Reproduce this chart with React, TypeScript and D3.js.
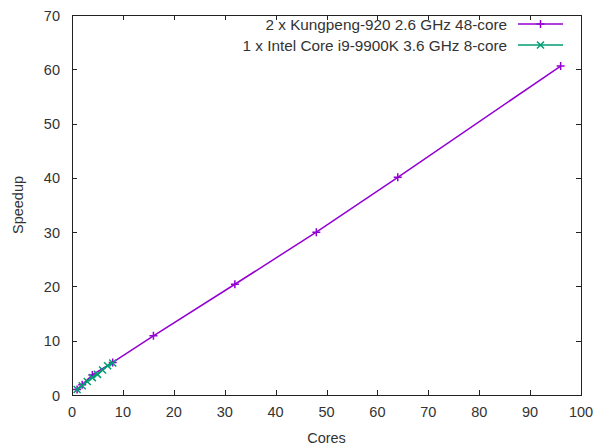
import React, { useRef, useEffect } from "react";
import * as d3 from "d3";

const kunpengCores = [1, 2, 4, 8, 16, 32, 48, 64, 96];
const kunpengSpeedup = [1.0, 1.9, 3.7, 6.0, 10.9, 20.4, 30.0, 40.1, 60.6];
const intelCores = [1, 2, 3, 4, 5, 6, 7, 8];
const intelSpeedup = [1.0, 1.7, 2.5, 3.2, 3.8, 4.6, 5.4, 5.9];
const xTicks = [0, 10, 20, 30, 40, 50, 60, 70, 80, 90, 100];
const yTicks = [0, 10, 20, 30, 40, 50, 60, 70];
const seriesNames = [
  "2 x Kungpeng-920 2.6 GHz 48-core",
  "1 x Intel Core i9-9900K 3.6 GHz 8-core",
];
const seriesColors = ["#9400d3", "#009e73"];

const App = () => {
  const canvas = useRef<SVGSVGElement>(null);

  const width = 597;
  const height = 447;
  const left = 72, right = 581, top = 15, bottom = 395;

  useEffect(() => {
    const svg = d3.select(canvas.current);
    svg.selectAll("*").remove();

    const xScale = d3.scaleLinear().domain([0, 100]).range([left, right]);
    const yScale = d3.scaleLinear().domain([0, 70]).range([bottom, top]);
    const font = "'Liberation Sans', Arial, sans-serif";
    const fs = 14.5;
    const textColor = "#333";

    svg.append("rect").attr("width", width).attr("height", height).attr("fill", "#fff");

    // ticks on all four sides, pointing inward
    const tk = svg.append("g").attr("stroke", "#222").attr("stroke-width", 1);
    xTicks.forEach((t) => {
      const x = Math.round(xScale(t)) + 0.5;
      tk.append("line").attr("x1", x).attr("x2", x).attr("y1", bottom).attr("y2", bottom - 5);
      tk.append("line").attr("x1", x).attr("x2", x).attr("y1", top).attr("y2", top + 5);
    });
    yTicks.forEach((t) => {
      const y = Math.round(yScale(t)) + 0.5;
      tk.append("line").attr("x1", left).attr("x2", left + 5).attr("y1", y).attr("y2", y);
      tk.append("line").attr("x1", right).attr("x2", right - 5).attr("y1", y).attr("y2", y);
    });

    svg.append("rect")
      .attr("x", left + 0.5).attr("y", top + 0.5)
      .attr("width", right - left).attr("height", bottom - top)
      .attr("fill", "none").attr("stroke", "#222").attr("stroke-width", 1);

    svg.selectAll(".xl").data(xTicks).enter().append("text")
      .attr("x", (d) => xScale(d)).attr("y", bottom + 22)
      .attr("text-anchor", "middle").attr("font-family", font).attr("font-size", fs)
      .attr("fill", textColor).text((d) => d);

    svg.selectAll(".yl").data(yTicks).enter().append("text")
      .attr("x", left - 12).attr("y", (d) => yScale(d) + 5.5)
      .attr("text-anchor", "end").attr("font-family", font).attr("font-size", fs)
      .attr("fill", textColor).text((d) => d);

    svg.append("text").attr("x", xScale(50)).attr("y", 443)
      .attr("text-anchor", "middle").attr("font-family", font).attr("font-size", fs)
      .attr("fill", textColor).text("Cores");

    svg.append("text").attr("transform", `translate(23,${(top + bottom) / 2}) rotate(-90)`)
      .attr("text-anchor", "middle").attr("font-family", font).attr("font-size", fs)
      .attr("fill", textColor).text("Speedup");

    const line = d3.line<[number, number]>().x((d) => xScale(d[0])).y((d) => yScale(d[1]));

    const plus = (g: any, x: number, y: number, c: string) => {
      g.append("path").attr("d", `M${x - 4},${y}H${x + 4}M${x},${y - 4}V${y + 4}`)
        .attr("stroke", c).attr("stroke-width", 1.5).attr("fill", "none");
    };
    const cross = (g: any, x: number, y: number, c: string) => {
      g.append("path").attr("d", `M${x - 3.5},${y - 3.5}L${x + 3.5},${y + 3.5}M${x - 3.5},${y + 3.5}L${x + 3.5},${y - 3.5}`)
        .attr("stroke", c).attr("stroke-width", 1.5).attr("fill", "none");
    };

    const series = [
      { xs: kunpengCores, ys: kunpengSpeedup, marker: plus },
      { xs: intelCores, ys: intelSpeedup, marker: cross },
    ];

    series.forEach((s, i) => {
      const pts: [number, number][] = s.xs.map((x, j) => [x, s.ys[j]]);
      const g = svg.append("g");
      g.append("path").attr("d", line(pts) as string).attr("fill", "none")
        .attr("stroke", seriesColors[i]).attr("stroke-width", 1.5);
      pts.forEach((p) => s.marker(g, xScale(p[0]), yScale(p[1]), seriesColors[i]));

      // legend entry
      const ly = 24 + i * 21;
      svg.append("text").attr("x", 507).attr("y", ly + 5.5)
        .attr("text-anchor", "end").attr("font-family", font).attr("font-size", 15.3)
        .attr("fill", textColor).text(seriesNames[i]);
      svg.append("line").attr("x1", 518).attr("x2", 563).attr("y1", ly).attr("y2", ly)
        .attr("stroke", seriesColors[i]).attr("stroke-width", 1.5);
      s.marker(svg, 540.5, ly, seriesColors[i]);
    });
  });

  return <svg ref={canvas} width={width} height={height} style={{ display: "block", position: "absolute", left: 0, top: 0 }}></svg>;
};

export default App;
